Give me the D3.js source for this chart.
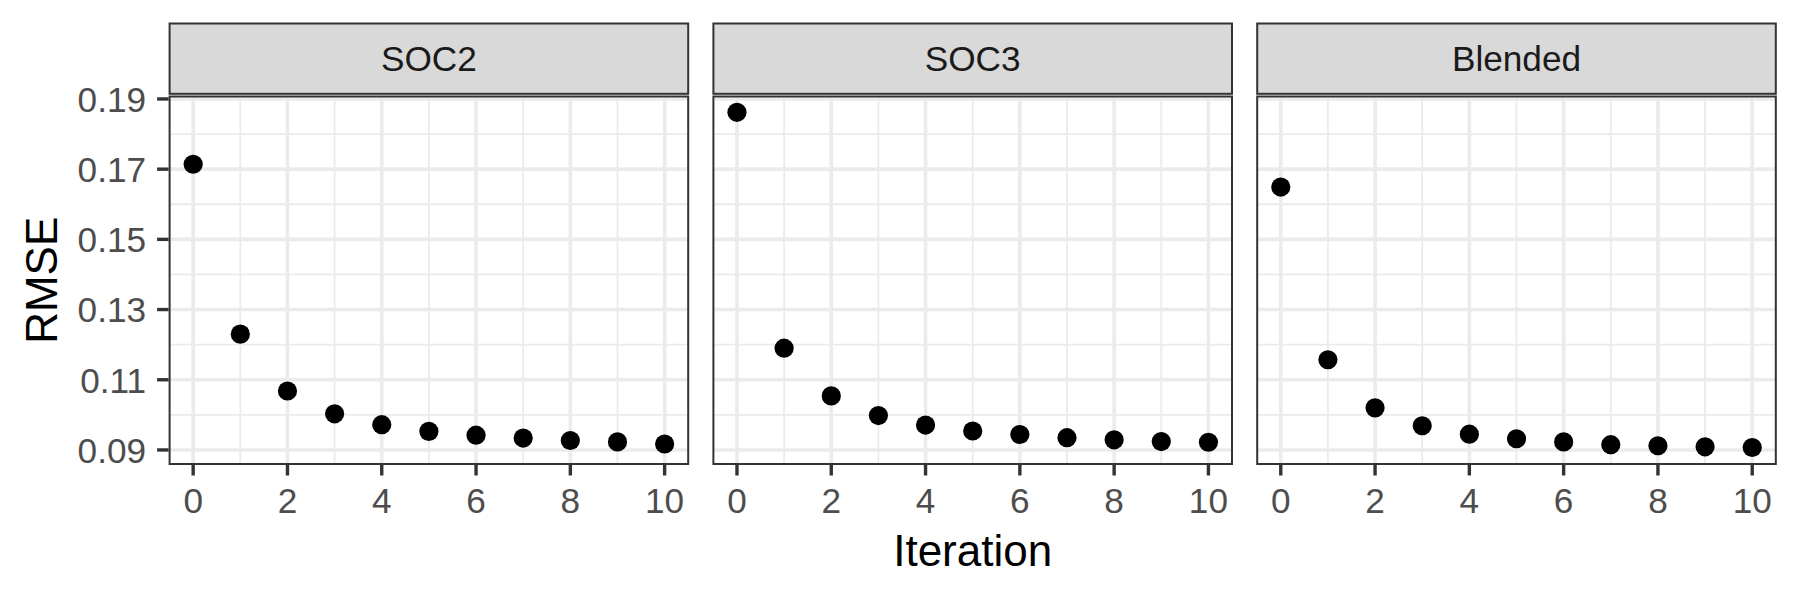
<!DOCTYPE html>
<html>
<head>
<meta charset="utf-8">
<script src="https://cdn.jsdelivr.net/npm/d3@7"></script>
<style>
  html, body { margin: 0; padding: 0; background: #fff; }
  svg { display: block; font-family: "Liberation Sans", Arial, Helvetica, sans-serif; }
</style>
</head>
<body>
<svg id="chart" width="1800" height="600"></svg>
<script>
// ---- data ----
const panels = ["SOC2", "SOC3", "Blended"];
const iterations = [0, 1, 2, 3, 4, 5, 6, 7, 8, 9, 10];
const soc2 = [0.1714, 0.1230, 0.1068, 0.1003, 0.0972, 0.0953, 0.0942, 0.0934, 0.0927, 0.0923, 0.0917];
const soc3 = [0.1862, 0.1190, 0.1054, 0.0998, 0.0971, 0.0954, 0.0944, 0.0935, 0.0929, 0.0924, 0.0922];
const blended = [0.1649, 0.1157, 0.1020, 0.0969, 0.0945, 0.0932, 0.0923, 0.0915, 0.0912, 0.0909, 0.0907];
const xTicks = [0, 2, 4, 6, 8, 10];
const xMinor = [1, 3, 5, 7, 9];
const yTicks = [0.09, 0.11, 0.13, 0.15, 0.17, 0.19];
const yMinor = [0.10, 0.12, 0.14, 0.16, 0.18];
const xTitle = "Iteration";
const yTitle = "RMSE";

const seriesValues = [soc2, soc3, blended];

// ---- layout ----
const svg = d3.select("#chart");
const panelLeft0 = 169.6, panelW = 518.6, panelGap = 25.2;
const panelTop = 96.5, panelBottom = 464;
const panelH = panelBottom - panelTop;
const stripTop = 23.5, stripBottom = 93.8;

const x = d3.scaleLinear().domain([-0.5, 10.5]).range([0, panelW]);
const y = d3.scaleLinear().domain([0.0860, 0.1907]).range([panelH, 0]);

const gridCol = "#EBEBEB";
const tickTextCol = "#4D4D4D";

panels.forEach((name, i) => {
  const left = panelLeft0 + i * (panelW + panelGap);
  const g = svg.append("g").attr("transform", `translate(${left},${panelTop})`);

  // background
  g.append("rect").attr("width", panelW).attr("height", panelH).attr("fill", "#fff");

  // minor grid
  g.selectAll(".ymin").data(yMinor).enter().append("line")
    .attr("x1", 0).attr("x2", panelW)
    .attr("y1", d => y(d)).attr("y2", d => y(d))
    .attr("stroke", gridCol).attr("stroke-width", 1.8);
  g.selectAll(".xmin").data(xMinor).enter().append("line")
    .attr("y1", 0).attr("y2", panelH)
    .attr("x1", d => x(d)).attr("x2", d => x(d))
    .attr("stroke", gridCol).attr("stroke-width", 1.8);
  // major grid
  g.selectAll(".ymaj").data(yTicks).enter().append("line")
    .attr("x1", 0).attr("x2", panelW)
    .attr("y1", d => y(d)).attr("y2", d => y(d))
    .attr("stroke", gridCol).attr("stroke-width", 3.6);
  g.selectAll(".xmaj").data(xTicks).enter().append("line")
    .attr("y1", 0).attr("y2", panelH)
    .attr("x1", d => x(d)).attr("x2", d => x(d))
    .attr("stroke", gridCol).attr("stroke-width", 3.6);

  // points
  const vals = seriesValues[i];
  g.selectAll(".pt").data(iterations).enter().append("circle")
    .attr("cx", d => x(d))
    .attr("cy", (d, k) => y(vals[k]))
    .attr("r", 9.6)
    .attr("fill", "#000");

  // border
  g.append("rect").attr("width", panelW).attr("height", panelH)
    .attr("fill", "none").attr("stroke", "#333333").attr("stroke-width", 2);

  // x ticks and labels
  g.selectAll(".xt").data(xTicks).enter().append("line")
    .attr("x1", d => x(d)).attr("x2", d => x(d))
    .attr("y1", panelH + 1).attr("y2", panelH + 11.5)
    .attr("stroke", "#333333").attr("stroke-width", 3.4);
  g.selectAll(".xl").data(xTicks).enter().append("text")
    .attr("x", d => x(d)).attr("y", panelH + 48.5)
    .attr("text-anchor", "middle")
    .attr("font-size", 35.2).attr("fill", tickTextCol)
    .text(d => d);

  // y axis only on first panel
  if (i === 0) {
    g.selectAll(".yt").data(yTicks).enter().append("line")
      .attr("x1", -12.5).attr("x2", -1)
      .attr("y1", d => y(d)).attr("y2", d => y(d))
      .attr("stroke", "#333333").attr("stroke-width", 3.4);
    g.selectAll(".yl").data(yTicks).enter().append("text")
      .attr("x", -23.5).attr("y", d => y(d) + 12.8)
      .attr("text-anchor", "end")
      .attr("font-size", 35.2).attr("fill", tickTextCol)
      .text(d => d3.format(".2f")(d));
  }

  // strip
  const s = svg.append("g").attr("transform", `translate(${left},${stripTop})`);
  s.append("rect").attr("width", panelW).attr("height", stripBottom - stripTop)
    .attr("fill", "#D9D9D9").attr("stroke", "#333333").attr("stroke-width", 2);
  s.append("text").attr("x", panelW / 2).attr("y", (stripBottom - stripTop) / 2 + 12.8)
    .attr("text-anchor", "middle").attr("font-size", 35.2).attr("fill", "#1A1A1A")
    .text(name);
});

// axis titles
const plotCenterX = panelLeft0 + (3 * panelW + 2 * panelGap) / 2;
svg.append("text").attr("x", plotCenterX).attr("y", 565.5)
  .attr("text-anchor", "middle").attr("font-size", 44).attr("fill", "#000")
  .text(xTitle);
svg.append("text")
  .attr("transform", `translate(57,${panelTop + panelH / 2}) rotate(-90)`)
  .attr("text-anchor", "middle").attr("font-size", 44).attr("fill", "#000")
  .text(yTitle);
</script>
</body>
</html>
